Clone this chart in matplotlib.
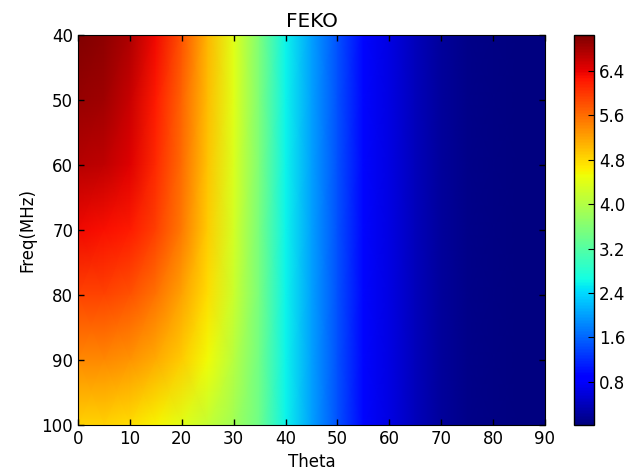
import matplotlib
matplotlib.use('Agg')
import matplotlib.pyplot as plt
import numpy as np

# grid
theta = [0, 5, 10, 15, 20, 25, 30, 35, 40, 45, 50, 55, 60, 65, 70, 75, 80, 85, 90]
freq = [40, 50, 60, 70, 80, 90, 100]

row_40 = [7.05, 6.95, 6.75, 6.35, 5.80, 5.05, 4.40, 3.55, 2.60, 2.00, 1.45, 0.95, 0.65, 0.40, 0.20, 0.10, 0.06, 0.04, 0.02]
row_50 = [6.90, 6.85, 6.60, 6.20, 5.65, 5.00, 4.40, 3.55, 2.60, 2.00, 1.45, 0.95, 0.65, 0.40, 0.20, 0.10, 0.06, 0.04, 0.02]
row_60 = [6.70, 6.65, 6.45, 6.10, 5.60, 4.95, 4.35, 3.55, 2.60, 2.00, 1.45, 0.95, 0.65, 0.40, 0.20, 0.10, 0.06, 0.04, 0.02]
row_70 = [6.35, 6.30, 6.20, 5.95, 5.50, 4.90, 4.30, 3.50, 2.60, 2.00, 1.45, 0.95, 0.65, 0.40, 0.20, 0.10, 0.06, 0.04, 0.02]
row_80 = [5.90, 5.90, 5.80, 5.55, 5.20, 4.75, 4.20, 3.50, 2.60, 2.00, 1.45, 0.95, 0.65, 0.40, 0.20, 0.10, 0.06, 0.04, 0.02]
row_90 = [5.40, 5.40, 5.30, 5.15, 4.90, 4.55, 4.05, 3.45, 2.60, 2.00, 1.45, 0.95, 0.65, 0.40, 0.20, 0.10, 0.06, 0.04, 0.02]
row_100 = [4.85, 4.85, 4.75, 4.60, 4.40, 4.15, 3.85, 3.40, 2.60, 2.00, 1.45, 0.95, 0.65, 0.40, 0.20, 0.10, 0.06, 0.04, 0.02]

cbar_ticks = [0.8, 1.6, 2.4, 3.2, 4.0, 4.8, 5.6, 6.4]

plt.rcParams['font.size'] = 12
plt.rcParams['xtick.direction'] = 'in'
plt.rcParams['ytick.direction'] = 'in'

Z = np.array([row_40, row_50, row_60, row_70, row_80, row_90, row_100])

fig = plt.figure(figsize=(6.31, 4.72), dpi=100)
ax = fig.add_axes([0.1236, 0.0996, 0.7401, 0.8262])
cax = fig.add_axes([0.9097, 0.0996, 0.0317, 0.8262])

mesh = ax.pcolormesh(theta, freq, Z, cmap='jet', shading='gouraud')
ax.set_xlim(0, 90)
ax.set_ylim(100, 40)
ax.set_xticks(range(0, 91, 10))
ax.set_yticks(range(40, 101, 10))
ax.tick_params(top=True, right=True, length=4, width=1)
ax.set_title('FEKO', fontsize=14.4)
ax.set_xlabel('Theta')
ax.set_ylabel('Freq(MHz)')

cb = fig.colorbar(mesh, cax=cax)
cb.set_ticks(cbar_ticks)
cb.ax.tick_params(direction='in', length=4)
cb.outline.set_linewidth(1)

fig.savefig('out.png', dpi=100)
